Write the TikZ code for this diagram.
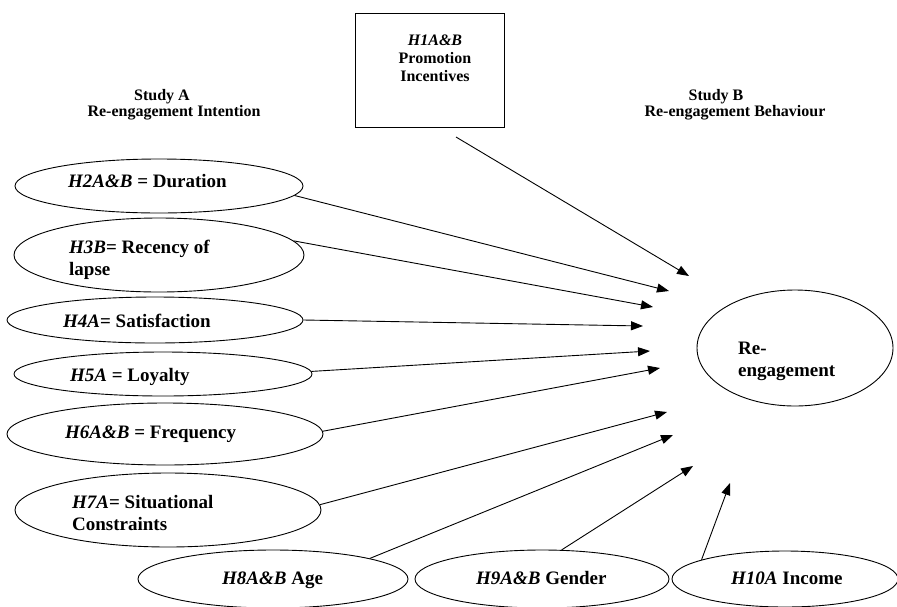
\documentclass[tikz,border=0pt]{standalone}
\usepackage{fontspec}
\setmainfont{Liberation Serif}
\usetikzlibrary{shapes.geometric,arrows.meta}
\begin{document}
\begin{tikzpicture}[x=1pt,y=-1pt,
  oval/.style={ellipse,draw,line width=0.9pt,inner sep=0pt},
  lbl/.style={anchor=base west,inner sep=0pt,font=\fontsize{19}{22}\selectfont\bfseries},
  head/.style={anchor=base,inner sep=0pt,font=\fontsize{16}{18}\selectfont\bfseries},
  conn/.style={line width=0.9pt,-{Triangle[length=12pt,width=9pt]}}]
\useasboundingbox (0,0) rectangle (897,606);

% box
\node[draw,line width=0.9pt,minimum width=149pt,minimum height=114pt,inner sep=0pt] (box) at (429.5,70) {};
\node[head] (b1) at (435,45) {\textit{H1A\&B}};
\node[head] (b2) at (435,63) {Promotion};
\node[head] (b3) at (435,81) {Incentives};

% headers
\node[head] (ha1) at (162,100) {Study A};
\node[head] (ha2) at (174,116) {Re-engagement Intention};
\node[head] (hb1) at (716,100) {Study B};
\node[head] (hb2) at (735,116) {Re-engagement Behaviour};

% ellipses
\node[oval,minimum width=288pt,minimum height=54pt] (e1) at (159,186) {};
\node[oval,minimum width=290pt,minimum height=74pt] (e2) at (159,255) {};
\node[oval,minimum width=296pt,minimum height=46pt] (e3) at (155,320) {};
\node[oval,minimum width=298pt,minimum height=44pt] (e4) at (163,374) {};
\node[oval,minimum width=316pt,minimum height=62pt] (e5) at (165,434) {};
\node[oval,minimum width=306pt,minimum height=74pt] (e6) at (168,510) {};
\node[oval,minimum width=270pt,minimum height=58pt] (e7) at (273,579) {};
\node[oval,minimum width=254pt,minimum height=58pt] (e8) at (542,579) {};
\node[oval,minimum width=226pt,minimum height=56pt] (e9) at (785,579) {};
\node[oval,minimum width=196pt,minimum height=116pt] (re) at (795,348) {};

% labels
\node[lbl] (l1) at (68,187) {\textit{H2A\&B} = Duration};
\node[lbl] (l2a) at (69,253) {\textit{H3B}= Recency of};
\node[lbl] (l2b) at (69,275) {lapse};
\node[lbl] (l3) at (63,327) {\textit{H4A}= Satisfaction};
\node[lbl] (l4) at (70,381) {\textit{H5A} = Loyalty};
\node[lbl] (l5) at (65,438) {\textit{H6A\&B} = Frequency};
\node[lbl] (l6a) at (72,508) {\textit{H7A}= Situational};
\node[lbl] (l6b) at (72,530) {Constraints};
\node[lbl] (l7) at (222,584) {\textit{H8A\&B} Age};
\node[lbl] (l8) at (476,584) {\textit{H9A\&B} Gender};
\node[lbl] (l9) at (731,584) {\textit{H10A} Income};
\node[lbl] (lra) at (738,354) {Re-};
\node[lbl] (lrb) at (738,376) {engagement};

% arrow ends
\coordinate (s0) at (456,137);
\coordinate (t0) at (689,276);
\coordinate (t1) at (669,291);
\coordinate (t2) at (653,307);
\coordinate (t3) at (643,326);
\coordinate (t4) at (650,351);
\coordinate (t5) at (660,368);
\coordinate (t6) at (667,412);
\coordinate (t7) at (673,435);
\coordinate (t8) at (693,466);
\coordinate (t9) at (730,483);

% connectors
\draw[conn] (s0) -- (t0);
\draw[conn] (e1.-4.5) -- (t1);
\draw[conn] (e2.6.8) -- (t2);
\draw[conn] (e3.0) -- (t3);
\draw[conn] (e4.1.9) -- (t4);
\draw[conn] (e5.1) -- (t5);
\draw[conn] (e6.2.6) -- (t6);
\draw[conn] (e7.12.8) -- (t7);
\draw[conn] (e8.56.7) -- (t8);
\draw[conn] (e9.167.7) -- (t9);
\end{tikzpicture}
\end{document}
